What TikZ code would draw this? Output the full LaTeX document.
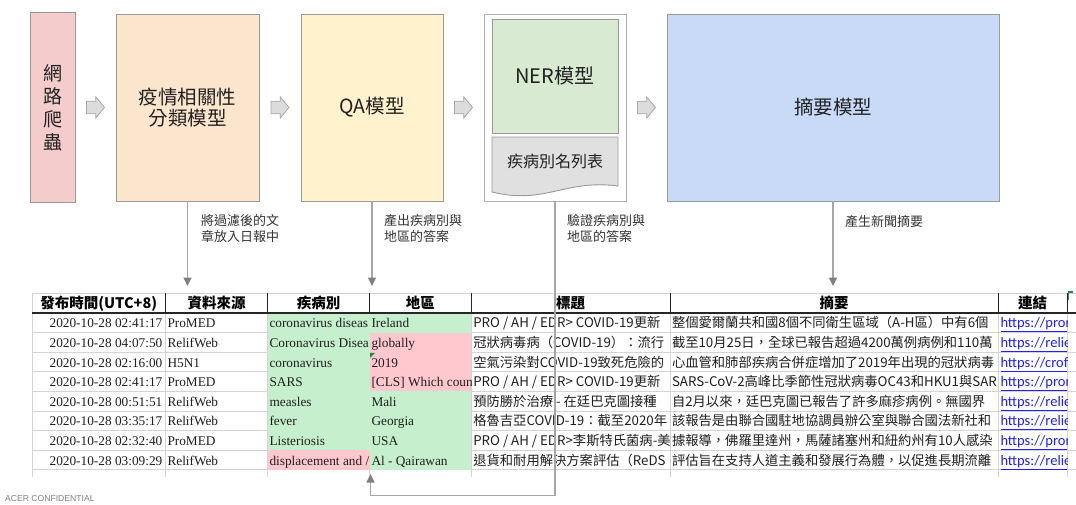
\documentclass[tikz,border=0pt]{standalone}
\usepackage{fontspec}
\setmainfont{Liberation Serif}
\newfontfamily\cjk{Noto Sans CJK TC}
\newfontfamily\linkf{Carlito}
\newfontfamily\lsans{Liberation Sans}
\usetikzlibrary{arrows.meta,calc}
\definecolor{pinkbox}{HTML}{F4CCCC}
\definecolor{peach}{HTML}{FCE5CD}
\definecolor{lyellow}{HTML}{FFF2CC}
\definecolor{lgreen}{HTML}{D9EAD3}
\definecolor{lblue}{HTML}{C9DAF8}
\definecolor{docgray}{HTML}{E0E0E0}
\definecolor{boxborder}{HTML}{9A9A9A}
\definecolor{connline}{HTML}{A6A6A6}
\definecolor{connhead}{HTML}{808080}
\definecolor{goodfill}{HTML}{C6EFCE}
\definecolor{badfill}{HTML}{FFC7CE}
\definecolor{gridc}{HTML}{D4D4D4}
\definecolor{linkc}{HTML}{2020F0}
\definecolor{labelc}{HTML}{333333}
\definecolor{arrowfill}{HTML}{DCDCDC}
\definecolor{arrowdraw}{HTML}{A8A8A8}
\definecolor{errgreen}{HTML}{1E8C3A}
\newcommand\cellL[5]{%
  \begin{scope}
  \clip ({#2},{313+19.6*(#4-1)}) rectangle ({#3},{313+19.6*#4});
  \node[celltext,anchor=base west] (#1) at ({#2+1.8},{313+19.6*(#4-0.5)+5}) {#5};
  \end{scope}}
\newcommand\trow[8]{%
  \node[celltext,anchor=base east] (r#1date) at (162.5,{313+19.6*(#1-0.5)+5}) {#2};
  \cellL{r#1src}{165.5}{267.5}{#1}{#3}
  \cellL{r#1dis}{267.5}{369.5}{#1}{#4}
  \cellL{r#1reg}{369.5}{471.3}{#1}{#5}
  \cellL{r#1tit}{471.3}{670}{#1}{\cjk #6}
  \cellL{r#1abs}{670}{998.5}{#1}{\cjk #7}
  \cellL{r#1lnk}{998.5}{1067}{#1}{\linkf\fontsize{14.5}{16}\selectfont\color{linkc}\underline{#8}}}
\begin{document}
\begin{tikzpicture}[x=1pt,y=-1pt,
  box/.style={draw=boxborder,line width=0.9pt,inner sep=0,outer sep=0},
  boxtext/.style={font=\cjk\fontsize{19.5}{21.5}\selectfont,text=black!87,align=center},
  conn/.style={draw=connline,line width=1.2pt,-{Triangle[width=8pt,length=8.5pt,color=connhead,fill=connhead]}},
  note/.style={font=\cjk\fontsize{13}{16}\selectfont,text=labelc,align=left,inner sep=0,anchor=north west},
  celltext/.style={font=\fontsize{13.3}{15}\selectfont,inner sep=0,text=black!88},
  hdr/.style={font=\cjk\bfseries\fontsize{14.5}{16}\selectfont,inner sep=0,anchor=base,text=black},
  barrowst/.style={fill=arrowfill,draw=arrowdraw,line width=0.8pt,line join=miter},
  gridl/.style={draw=gridc,line width=0.8pt},
  hline/.style={draw=black!85,line width=0.9pt},
]
\useasboundingbox[fill=white] (0,0) rectangle (1076,504);

% ---------- top pipeline ----------
\node[box,fill=pinkbox,minimum width=45pt,minimum height=190pt,boxtext,font=\cjk\fontsize{19}{23}\selectfont] (crawl) at (52.5,107.5) {網\\路\\爬\\蟲};
\node[box,fill=peach,minimum width=143pt,minimum height=187pt,boxtext] (classify) at (187.5,107.5) {疫情相關性\\分類模型};
\node[box,fill=lyellow,minimum width=142pt,minimum height=187pt,boxtext] (qa) at (372,107.5) {QA模型};
\node[box,draw=boxborder!80,fill=white,minimum width=142pt,minimum height=187pt] (nerbox) at (555,107.5) {};
\node[box,fill=lgreen,minimum width=126pt,minimum height=114pt,boxtext,font=\cjk\fontsize{20}{22}\selectfont] (nermodel) at (555,76) {NER模型};
\draw[box,fill=docgray] (492,137) -- (618,137) -- (618,186) .. controls (565,179) and (545,205) .. (492,192) -- cycle;
\node[boxtext,font=\cjk\fontsize{16}{18}\selectfont,inner sep=0] (dislist) at (555,161.5) {疾病別名列表};
\node[box,fill=lblue,minimum width=332pt,minimum height=187pt,boxtext] (summary) at (833,107.5) {摘要模型};

% block arrows between stages
\coordinate (ba1) at ($(crawl.east)!0.5!(classify.west)$);
\coordinate (ba2) at ($(classify.east)!0.5!(qa.west)$);
\coordinate (ba3) at ($(qa.east)!0.5!(nerbox.west)$);
\coordinate (ba4) at ($(nerbox.east)!0.5!(summary.west)$);
\foreach \b in {ba1,ba2,ba3,ba4}{
  \draw[barrowst,shift={(\b)}] (-9,-6.3) -- (0.3,-6.3) -- (0.3,-10.5) -- (9,0) -- (0.3,10.5) -- (0.3,6.3) -- (-9,6.3) -- cycle;
}

% ---------- table grid ----------
\foreach \k in {1,...,8}{ \draw[gridl] (32,{313+19.6*\k}) -- (1076,{313+19.6*\k}); }
\foreach \xx in {32,165.5,267.5,369.5,471.3,670,998.5,1067}{ \draw[gridl] (\xx,313) -- (\xx,477); }
% conditional fills
\fill[goodfill] (267.5,313) rectangle (369.5,450.2);
\fill[badfill] (267.5,450.2) rectangle (369.5,469.8);
\fill[goodfill] (369.5,313) rectangle (471.3,332.6);
\fill[badfill] (369.5,332.6) rectangle (471.3,391.4);
\fill[goodfill] (369.5,391.4) rectangle (471.3,469.8);
\fill[errgreen] (370,352.8) -- (375,352.8) -- (370,357.8) -- cycle;
% header
\draw[gridl] (32,293) -- (1076,293);
\draw[gridl] (32,293) -- (32,313);
\foreach \xx in {165.5,267.5,369.5,471.3,670,998.5,1067}{ \draw[hline] (\xx,293) -- (\xx,313); }
\draw[draw=black!85,line width=1.6pt] (32,313) -- (1076,313);
\draw[errgreen,line width=1.2pt] (1068.5,300) -- (1068.5,292) -- (1073,292);
\node[hdr] (h1) at (98.75,308.5) {發布時間(UTC+8)};
\node[hdr] (h2) at (216.5,308.5) {資料來源};
\node[hdr] (h3) at (318.5,308.5) {疾病別};
\node[hdr] (h4) at (420.4,308.5) {地區};
\node[hdr] (h5) at (570.6,308.5) {標題};
\node[hdr] (h6) at (834.2,308.5) {摘要};
\node[hdr] (h7) at (1032.7,308.5) {連結};

% ---------- table rows ----------
\trow{1}{2020-10-28 02:41:17}{ProMED}{coronavirus diseas}{Ireland}{PRO / AH / EDR> COVID-19更新}{整個愛爾蘭共和國8個不同衛生區域（A-H區）中有6個}{https://pror}
\trow{2}{2020-10-28 04:07:50}{RelifWeb}{Coronavirus Disea}{globally}{冠狀病毒病（COVID-19）：流行}{截至10月25日，全球已報告超過4200萬例病例和110萬}{https://relie}
\trow{3}{2020-10-28 02:16:00}{H5N1}{coronavirus}{2019}{空氣污染對COVID-19致死危險的}{心血管和肺部疾病合併症增加了2019年出現的冠狀病毒}{https://crof}
\trow{4}{2020-10-28 02:41:17}{ProMED}{SARS}{[CLS] Which coun}{PRO / AH / EDR> COVID-19更新}{SARS-CoV-2高峰比季節性冠狀病毒OC43和HKU1與SAR}{https://pror}
\trow{5}{2020-10-28 00:51:51}{RelifWeb}{measles}{Mali}{預防勝於治療 - 在廷巴克圖接種}{自2月以來，廷巴克圖已報告了許多麻疹病例。無國界}{https://relie}
\trow{6}{2020-10-28 03:35:17}{RelifWeb}{fever}{Georgia}{格魯吉亞COVID-19：截至2020年}{該報告是由聯合國駐地協調員辦公室與聯合國法新社和}{https://relie}
\trow{7}{2020-10-28 02:32:40}{ProMED}{Listeriosis}{USA}{PRO / AH / EDR>李斯特氏菌病-美}{據報導，佛羅里達州，馬薩諸塞州和紐約州有10人感染}{https://pror}
\trow{8}{2020-10-28 03:09:29}{RelifWeb}{displacement and /}{Al - Qairawan}{退貨和耐用解決方案評估（ReDS}{評估旨在支持人道主義和發展行為體，以促進長期流離}{https://relie}

% ---------- connectors ----------
\coordinate (t1) at (187.5,286);
\coordinate (t2) at (372,286);
\coordinate (t4) at (833,286);
\coordinate (nr1) at (555,495.5);
\coordinate (nr2) at (370.5,495.5);
\coordinate (nrt) at (370.5,474);
\draw[conn] (classify.south) -- (t1);
\draw[conn] (qa.south) -- (t2);
\draw[conn] (summary.south) -- (t4);
\draw[conn] (nerbox.south) -- (nr1) -- (nr2) -- (nrt);

\node[note] (lab1) at (201,214.5) {將過濾後的文\\章放入日報中};
\node[note] (lab2) at (384,214.5) {產出疾病別與\\地區的答案};
\node[note] (lab3) at (567,214.5) {驗證疾病別與\\地區的答案};
\node[note] (lab4) at (845,215.5) {產生新聞摘要};

\node[font=\lsans\fontsize{8.6}{10}\selectfont,text=black!50,inner sep=0,anchor=base west] (conf) at (5,501.5) {ACER CONFIDENTIAL};
\end{tikzpicture}
\end{document}
